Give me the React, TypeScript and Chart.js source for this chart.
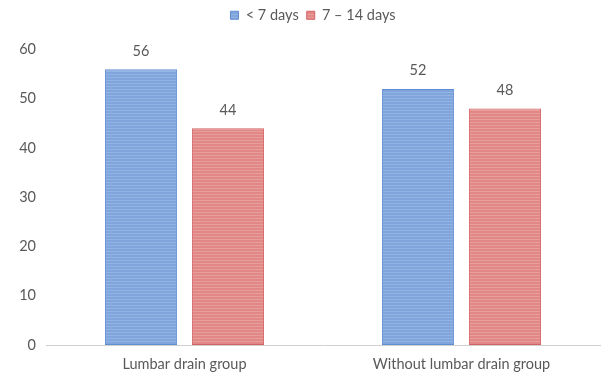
import React, { useEffect, useRef } from "react";
import { Chart, registerables } from "chart.js";

Chart.register(...registerables);

const categories = ["Lumbar drain group", "Without lumbar drain group"];
const seriesNames = ["< 7 days", "7 – 14 days"];
const underSeven = [56, 52];
const sevenToFourteen = [44, 48];
const yTicks = [0, 10, 20, 30, 40, 50, 60];

const FONT = "Lato";
const TEXT = "#595959";

// Horizontal hairline stripes used as bar fill
function stripes(base: string, line: string): CanvasPattern | string {
  const c = document.createElement("canvas");
  c.width = 4;
  c.height = 3;
  const ctx = c.getContext("2d");
  if (!ctx) return base;
  ctx.fillStyle = base;
  ctx.fillRect(0, 0, 4, 3);
  ctx.fillStyle = line;
  ctx.fillRect(0, 2, 4, 1);
  return ctx.createPattern(c, "repeat") || base;
}

// Value printed above each bar
const valueLabels = {
  id: "valueLabels",
  afterDatasetsDraw(chart: any) {
    const ctx = chart.ctx;
    ctx.save();
    ctx.font = `14.5px ${FONT}`;
    ctx.fillStyle = TEXT;
    ctx.textAlign = "center";
    ctx.textBaseline = "bottom";
    chart.data.datasets.forEach((ds: any, i: number) => {
      const meta = chart.getDatasetMeta(i);
      meta.data.forEach((bar: any, j: number) => {
        ctx.fillText(String(ds.data[j]), bar.x, bar.y - 11);
      });
    });
    ctx.restore();
  },
};

// Extra room below the legend, and the legend centred over the plot area
const legendPlacement = {
  id: "legendPlacement",
  beforeInit(chart: any) {
    const legend = chart.legend;
    if (!legend) return;
    const fit = legend.fit;
    legend.fit = function () {
      fit.call(this);
      this.height += 17;
    };
    const draw = legend.draw;
    legend.draw = function () {
      const ctx = chart.ctx;
      ctx.save();
      ctx.translate(13, 0);
      draw.call(this);
      ctx.restore();
    };
  },
};

export default function App() {
  const ref = useRef<HTMLCanvasElement>(null);

  useEffect(() => {
    if (!ref.current) return;
    const chart = new Chart(ref.current, {
      type: "bar",
      data: {
        labels: categories,
        datasets: [
          {
            label: seriesNames[0],
            data: underSeven,
            backgroundColor: stripes("#7fa5dc", "#93b3e2") as any,
            borderColor: "#5f8dd2",
            borderWidth: 1,
            borderSkipped: false,
          },
          {
            label: seriesNames[1],
            data: sevenToFourteen,
            backgroundColor: stripes("#e18786", "#e89e9d") as any,
            borderColor: "#d46262",
            borderWidth: 1,
            borderSkipped: false,
          },
        ],
      },
      options: {
        responsive: false,
        animation: false,
        categoryPercentage: 0.628,
        barPercentage: 0.83,
        layout: { padding: { top: 0, right: 6, left: 0, bottom: 0 } },
        plugins: {
          legend: {
            position: "top",
            labels: {
              boxWidth: 8,
              boxHeight: 8,
              padding: 8,
              color: TEXT,
              font: { family: FONT, size: 14.5 },
            },
          },
          tooltip: { enabled: false },
        },
        scales: {
          x: {
            grid: { display: false, drawTicks: false },
            border: { display: true, color: "#d0d0d0", width: 1 },
            ticks: {
              color: TEXT,
              font: { family: FONT, size: 14.5 },
              padding: 11,
            },
            afterFit(scale: any) {
              scale.height = 32;
            },
          },
          y: {
            min: 0,
            max: 60,
            afterBuildTicks(scale: any) {
              scale.ticks = yTicks.map((v) => ({ value: v }));
            },
            grid: { display: false, drawTicks: false },
            border: { display: false },
            ticks: {
              color: TEXT,
              font: { family: FONT, size: 14.5 },
              padding: 10,
            },
            afterFit(scale: any) {
              scale.width = 46;
            },
          },
        },
      },
      plugins: [valueLabels, legendPlacement],
    });
    return () => chart.destroy();
  }, []);

  return (
    <div style={{ position: "fixed", left: 0, top: 0, width: 606, height: 377, background: "#fff" }}>
      <canvas ref={ref} width={606} height={377} />
    </div>
  );
}
